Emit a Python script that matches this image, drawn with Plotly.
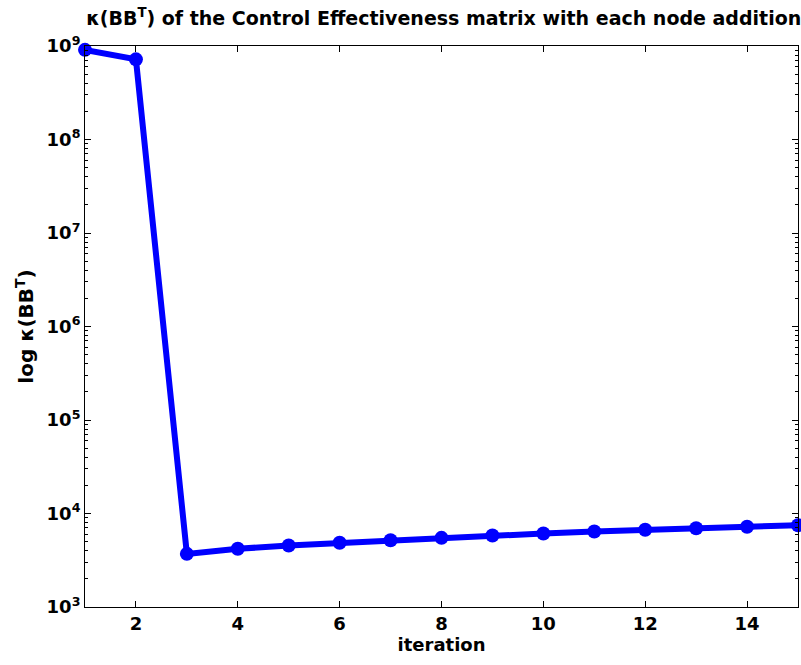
import plotly.graph_objects as go

iterations = list(range(1, 16))
kappa = [9.1e8, 7.2e8, 3.7e3, 4.19e3, 4.55e3, 4.86e3, 5.18e3, 5.49e3, 5.82e3,
         6.11e3, 6.41e3, 6.69e3, 6.96e3, 7.21e3, 7.5e3]
x_ticks = [2, 4, 6, 8, 10, 12, 14]

FONT = "DejaVu Sans"

fig = go.Figure()
fig.add_trace(go.Scatter(
    x=iterations, y=kappa, mode="lines+markers",
    line=dict(color="#0000ff", width=6),
    marker=dict(color="#0000ff", size=14),
    cliponaxis=False, showlegend=False,
))

fig.update_layout(
    width=801, height=665,
    margin=dict(l=85, r=3, t=46, b=58),
    paper_bgcolor="white", plot_bgcolor="white",
    font=dict(family=FONT, size=18, color="black"),
    title=dict(text="<b>κ(BB<sup>T</sup>) of the Control Effectiveness matrix with each node addition</b>",
               x=0.554, xanchor="center", y=0.972, yanchor="middle",
               font=dict(size=19, family=FONT)),
)
fig.update_xaxes(
    range=[1, 15], tickvals=x_ticks, ticktext=[f"<b>{v}</b>" for v in x_ticks],
    ticks="inside", ticklen=6, tickcolor="black", showgrid=False, zeroline=False,
    showline=True, linecolor="black", linewidth=1, mirror="ticks",
    title=dict(text="<b>iteration</b>", standoff=2, font=dict(size=18)),
    tickfont=dict(size=18),
)
fig.update_yaxes(
    type="log", range=[3, 9], dtick=1, exponentformat="power",
    tickvals=[10**k for k in range(3, 10)],
    ticktext=[f"<b>10<sup>{k}</sup></b>" for k in range(3, 10)],
    ticks="inside", ticklen=6, tickcolor="black", showgrid=False, zeroline=False,
    showline=True, linecolor="black", linewidth=1, mirror="ticks",
    minor=dict(ticks="inside", ticklen=3, tickcolor="black", dtick="D1", showgrid=False),
    title=dict(text="<b>log κ(BB<sup>T</sup>)</b>", standoff=7, font=dict(size=20)),
    tickfont=dict(size=18),
)

fig.write_html("out.html")
